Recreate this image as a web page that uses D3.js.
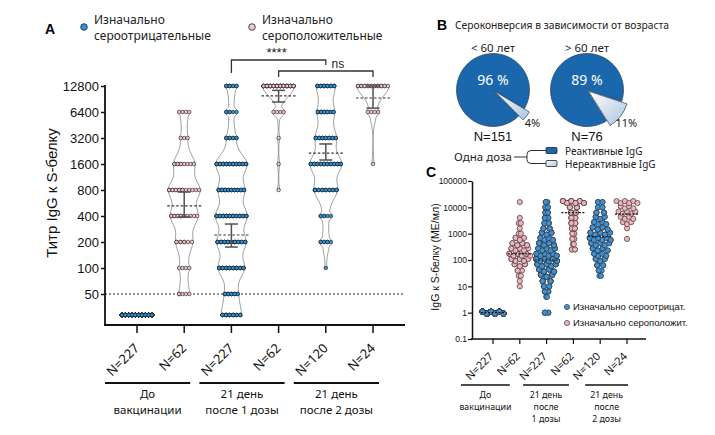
<!DOCTYPE html>
<html>
<head>
<meta charset="utf-8">
<script src="https://cdn.jsdelivr.net/npm/d3@7"></script>
<style>
  body { margin: 0; background: #fff; }
</style>
</head>
<body>
<svg id="chart" width="715" height="435"></svg>
<script>
// ---------- data ----------
const groupN = ["N=227", "N=62", "N=227", "N=62", "N=120", "N=24"];
const groupSero = ["neg", "pos", "neg", "pos", "neg", "pos"];
const timeLabelsA = [["До", "вакцинации"], ["21 день", "после 1 дозы"], ["21 день", "после 2 дозы"]];
const timeLabelsC = [["До", "вакцинации"], ["21 день", "после", "1 дозы"], ["21 день", "после", "2 дозы"]];
const legendA = [["Изначально", "сероотрицательные"], ["Изначально", "сероположительные"]];
const legendC = ["Изначально сероотрицат.", "Изначально сероположит."];

// panel A: titer levels (first one is below the 1:50 cut-off) and counts per level
const titerLevels = ["<50", 50, 100, 200, 400, 800, 1600, 3200, 6400, 12800];
const titerTicks = [50, 100, 200, 400, 800, 1600, 3200, 6400, 12800];
const countsA = [
  [227, 0, 0, 0, 0, 0, 0, 0, 0, 0],
  [0, 5, 4, 8, 13, 15, 10, 3, 4, 0],
  [22, 14, 30, 33, 36, 30, 36, 10, 6, 10],
  [0, 0, 0, 0, 0, 1, 1, 1, 4, 55],
  [0, 0, 1, 7, 6, 22, 30, 20, 16, 18],
  [0, 0, 0, 0, 0, 0, 1, 0, 4, 19]
];
const medianA = [null, 523, 241, 9830, 2140, 9300];
const errLowA = [null, 390, 175, 8350, 1780, 7100];
const errHighA = [null, 758, 323, 11400, 2730, 12800];
const signif = [{ a: 2, b: 4, label: "****" }, { a: 3, b: 5, label: "ns" }];

// panel B
const pieTitle = "Сероконверсия в зависимости от возраста";
const pieAges = ["< 60 лет", "> 60 лет"];
const pieReactive = [96, 89];
const pieN = ["N=151", "N=76"];
const pieLegend = ["Реактивные IgG", "Нереактивные IgG"];

// panel C: log10 bins of IgG (МЕ/мл), counts per bin for each group
const binLogC = [0.6, 0.8, 1.0, 1.2, 1.4, 1.6, 1.8, 2.0, 2.2, 2.4, 2.6, 2.8, 3.0, 3.2, 3.4, 3.6, 3.8, 4.0, 4.2];
const countsC = [
  [0, 0, 0, 0, 0, 0, 0, 0, 0, 0, 0, 0, 0, 0, 0, 0, 0, 0, 0],
  [0, 0, 1, 1, 2, 3, 6, 9, 11, 9, 8, 5, 2, 1, 2, 1, 0, 0, 1],
  [2, 5, 7, 10, 14, 18, 22, 25, 24, 20, 18, 15, 12, 8, 6, 5, 4, 4, 3],
  [0, 0, 0, 0, 0, 0, 0, 0, 0, 4, 2, 3, 3, 4, 5, 5, 6, 8, 22],
  [0, 0, 0, 0, 2, 3, 5, 7, 9, 11, 13, 15, 14, 11, 9, 7, 6, 4, 4],
  [0, 0, 0, 0, 0, 0, 0, 0, 0, 0, 0, 1, 0, 1, 3, 4, 5, 4, 6]
];
const onesC = [227, 0, 5, 0, 0, 0];   // values at 1 МЕ/мл
const medianC = [1, 170, 100, 6300, 780, 5500];
const yTicksC = [0.1, 1, 10, 100, 1000, 10000, 100000];

// ---------- style ----------
const FONT = '"Noto Sans", "DejaVu Sans", sans-serif';
const NUM = '"Liberation Sans", Arial, sans-serif';
const colour = { neg: "#2f93dc", pos: "#f5c3c8" };
const colourC = { neg: "#3d92d8", pos: "#f4b3bc" };
const pieDark = "#1b67ae";

const svg = d3.select("#chart");
const defs = svg.append("defs");
const grad = defs.append("linearGradient").attr("id", "light")
  .attr("x1", 0).attr("y1", 0).attr("x2", 1).attr("y2", 1);
grad.append("stop").attr("offset", "0%").attr("stop-color", "#ffffff");
grad.append("stop").attr("offset", "100%").attr("stop-color", "#a9c3e0");

// ================= PANEL A =================
const gA = svg.append("g");
const xA = d3.scalePoint().domain(d3.range(6)).range([137, 373]);
const yA = d3.scaleLog().base(2).domain([50, 12800]).range([294, 86]);
const yLevel = i => i === 0 ? yA(50) + 21 : yA(titerLevels[i]);

gA.append("text").attr("x", 45).attr("y", 34).text("A")
  .attr("font-family", NUM).attr("font-weight", "bold").attr("font-size", 14);

// legend
legendA.forEach((lines, k) => {
  const lx = k === 0 ? 84 : 252;
  gA.append("circle").attr("cx", lx).attr("cy", 27).attr("r", 3.3)
    .attr("fill", colour[k === 0 ? "neg" : "pos"]).attr("stroke", "#222").attr("stroke-width", 0.8);
  lines.forEach((t, j) => {
    gA.append("text").attr("x", lx + 10).attr("y", 24 + j * 16).text(t)
      .attr("font-family", FONT).attr("font-size", 12).attr("fill", "#222");
  });
});

// y axis
gA.append("g").attr("transform", "translate(105,0)")
  .call(d3.axisLeft(yA).tickValues(titerTicks).tickFormat(d3.format("d")).tickSize(4).tickSizeOuter(0))
  .call(g => g.select(".domain").remove())
  .call(g => g.selectAll("text").attr("font-family", NUM).attr("font-size", 13).attr("fill", "#111").attr("x", -6))
  .call(g => g.selectAll("line").attr("stroke", "#111").attr("stroke-width", 1.5));
gA.append("line").attr("x1", 105).attr("x2", 105).attr("y1", 85).attr("y2", 326)
  .attr("stroke", "#111").attr("stroke-width", 1.8);
gA.append("line").attr("x1", 104).attr("x2", 405).attr("y1", 325).attr("y2", 325)
  .attr("stroke", "#111").attr("stroke-width", 1.8);
gA.selectAll(".xtickA").data(d3.range(6)).join("line")
  .attr("class", "xtickA")
  .attr("x1", d => xA(d)).attr("x2", d => xA(d)).attr("y1", 325).attr("y2", 333)
  .attr("stroke", "#111").attr("stroke-width", 1.5);

gA.append("text").attr("transform", "translate(57,193) rotate(-90)")
  .attr("text-anchor", "middle").text("Титр IgG к S-белку")
  .attr("font-family", NUM).attr("font-size", 15).attr("fill", "#111");

// cut-off line
gA.append("line").attr("x1", 105).attr("x2", 405).attr("y1", yA(50)).attr("y2", yA(50))
  .attr("stroke", "#222").attr("stroke-width", 1).attr("stroke-dasharray", "2,2");

// violins
const bw = 10, halfMax = 16;
countsA.forEach((counts, g) => {
  const cx = xA(g);
  const pts = counts.map((c, i) => ({ c, y: yLevel(i), i })).filter(d => d.c > 0);
  const dens = t => d3.sum(pts, d => d.c * Math.exp(-((t - d.y) ** 2) / (2 * bw * bw)));
  const maxD = d3.max(pts, d => dens(d.y));
  const kde = t => halfMax * dens(t) / maxD;
  const rowMin = c => (Math.min(c, 4) - 1) * 1.7;
  pts.forEach(d => { d.hw = Math.max(kde(d.y) - 1, rowMin(d.c)); });
  const w = t => Math.max(kde(t), d3.max(pts, d => (d.hw + 1.2) * Math.exp(-((t - d.y) ** 2) / 32)));
  const y0 = d3.min(pts, d => d.y), y1 = d3.max(pts, d => d.y);
  const ts = d3.range(y0, y1, 1).concat([y1]);

  if (ts.length > 1) {
    gA.append("path").datum(ts)
      .attr("d", d3.area().curve(d3.curveBasis).y(t => t).x0(t => cx - w(t)).x1(t => cx + w(t)))
      .attr("fill", "none").attr("stroke", "#8c8c8c").attr("stroke-width", 0.8);
  }

  // dots: each subject placed into one of the visible slots of its row
  const dots = [];
  pts.forEach(d => {
    const nVis = d.c === 1 ? 1 : Math.max(2, Math.min(d.c, Math.floor(2 * d.hw / 3.1) + 1));
    const step = nVis > 1 ? 2 * d.hw / (nVis - 1) : 0;
    for (let j = 0; j < d.c; j++) {
      const slot = j % nVis;
      dots.push({ x: nVis > 1 ? cx - d.hw + slot * step : cx, y: d.y });
    }
  });
  gA.append("g").selectAll("circle").data(dots).join("circle")
    .attr("cx", d => d.x).attr("cy", d => d.y).attr("r", 1.8)
    .attr("fill", colour[groupSero[g]]).attr("stroke", "#1a1a1a").attr("stroke-width", 0.6);

  if (medianA[g] != null) {
    gA.append("line").attr("x1", cx - 17).attr("x2", cx + 17)
      .attr("y1", yA(medianA[g])).attr("y2", yA(medianA[g]))
      .attr("stroke", "#333").attr("stroke-width", 1.2).attr("stroke-dasharray", "2.5,2");
    const eb = gA.append("g").attr("stroke", "#505050").attr("stroke-width", 1.5);
    eb.append("line").attr("x1", cx).attr("x2", cx).attr("y1", yA(errLowA[g])).attr("y2", yA(errHighA[g]));
    [errLowA[g], errHighA[g]].forEach(v => {
      eb.append("line").attr("x1", cx - 6.5).attr("x2", cx + 6.5).attr("y1", yA(v)).attr("y2", yA(v));
    });
  }
});

// significance brackets
const brTop = [60, 71];
const brLegs = [[73, 65], [77, 77]];
signif.forEach((s, k) => {
  const xa = xA(s.a), xb = xA(s.b), yt = brTop[k];
  gA.append("path")
    .attr("d", `M${xa},${brLegs[k][0]}V${yt}H${xb}V${brLegs[k][1]}`)
    .attr("fill", "none").attr("stroke", "#333").attr("stroke-width", 1.3);
  const tx = k === 0 ? (xa + xb) / 2 - 2 : (xa + xb) / 2 + 12;
  gA.append("text").attr("x", tx).attr("y", k === 0 ? 57 : 68).attr("text-anchor", "middle")
    .text(s.label).attr("font-family", NUM).attr("font-size", k === 0 ? 13 : 12).attr("fill", "#222");
});

// category labels
gA.selectAll(".nA").data(groupN).join("text")
  .attr("class", "nA")
  .attr("transform", (d, i) => `translate(${xA(i) + 3},349) rotate(-45)`)
  .attr("text-anchor", "end").text(d => d)
  .attr("font-family", FONT).attr("font-size", 13).attr("fill", "#111");

timeLabelsA.forEach((lines, k) => {
  const xa = xA(2 * k) - 32, xb = xA(2 * k + 1) + 6;
  gA.append("line").attr("x1", xa).attr("x2", xb).attr("y1", 383).attr("y2", 383)
    .attr("stroke", "#111").attr("stroke-width", 2);
  lines.forEach((t, j) => {
    gA.append("text").attr("x", (xa + xb) / 2).attr("y", 398 + j * 16).attr("text-anchor", "middle")
      .text(t).attr("font-family", FONT).attr("font-size", 11.5).attr("fill", "#111");
  });
});

// ================= PANEL B =================
const gB = svg.append("g");
const xB = d3.scalePoint().domain([0, 1]).range([493, 587]);
gB.append("text").attr("x", 437).attr("y", 30).text("B")
  .attr("font-family", NUM).attr("font-weight", "bold").attr("font-size", 14);
gB.append("text").attr("x", 455).attr("y", 29).text(pieTitle)
  .attr("font-family", FONT).attr("font-size", 10.3).attr("fill", "#222");

const pieR = 36.5, pieCy = 90, mid = 128 * Math.PI / 180;
pieReactive.forEach((pct, k) => {
  const cx = xB(k);
  const share = (100 - pct) / 100 * 2 * Math.PI;
  const a0 = mid - share / 2;
  const arcs = d3.pie().sort(null).value(d => d).startAngle(a0).endAngle(a0 + 2 * Math.PI)([100 - pct, pct]);
  const g = gB.append("g").attr("transform", `translate(${cx},${pieCy})`);
  g.append("path").attr("d", d3.arc().innerRadius(0).outerRadius(pieR)(arcs[1]))
    .attr("fill", pieDark).attr("stroke", "#2c3f57").attr("stroke-width", 0.7);
  const off = 2;
  g.append("path").attr("d", d3.arc().innerRadius(0).outerRadius(pieR + 4)(arcs[0]))
    .attr("transform", `translate(${off * Math.sin(mid)},${-off * Math.cos(mid)})`)
    .attr("fill", "url(#light)").attr("stroke", "#2c3f57").attr("stroke-width", 0.7);

  gB.append("text").attr("x", cx).attr("y", 52).attr("text-anchor", "middle").text(pieAges[k])
    .attr("font-family", FONT).attr("font-size", 11.5).attr("fill", "#222");
  gB.append("text").attr("x", cx).attr("y", 85).attr("text-anchor", "middle").text(pct + " %")
    .attr("font-family", FONT).attr("font-size", 14).attr("fill", "#fff");
  const lr = pieR + 16;
  gB.append("text").attr("x", cx + lr * Math.sin(mid) - 2).attr("y", pieCy - lr * Math.cos(mid) + 1)
    .attr("dy", "0.35em").attr("text-anchor", "middle").text((100 - pct) + "%")
    .attr("font-family", FONT).attr("font-size", 11).attr("fill", "#222");
  gB.append("text").attr("x", cx).attr("y", 141).attr("text-anchor", "middle").text(pieN[k])
    .attr("font-family", NUM).attr("font-size", 13).attr("fill", "#111");
});

// legend
gB.append("text").attr("x", 512).attr("y", 161).attr("text-anchor", "end").text("Одна доза")
  .attr("font-family", FONT).attr("font-size", 11.5).attr("fill", "#222");
gB.append("path").attr("d", "M514,157H527M546,150.5H531Q527,150.5 527,154.5V159.5Q527,163.5 531,163.5H546")
  .attr("fill", "none").attr("stroke", "#333").attr("stroke-width", 1);
pieLegend.forEach((t, j) => {
  gB.append("rect").attr("x", 546).attr("y", 147.5 + j * 13).attr("width", 11).attr("height", 6).attr("rx", 1)
    .attr("fill", j === 0 ? pieDark : "url(#light)").attr("stroke", "#222").attr("stroke-width", 0.8);
  gB.append("text").attr("x", 565).attr("y", 154.5 + j * 13).text(t)
    .attr("font-family", FONT).attr("font-size", 10).attr("fill", "#222");
});

// ================= PANEL C =================
const gC = svg.append("g");
const xC = d3.scalePoint().domain(d3.range(6)).range([493, 627]);
const yC = d3.scaleLog().domain([0.1, 100000]).range([339, 181]);

gC.append("text").attr("x", 426).attr("y", 177).text("C")
  .attr("font-family", NUM).attr("font-weight", "bold").attr("font-size", 14);

gC.append("g").attr("transform", "translate(472,0)")
  .call(d3.axisLeft(yC).tickValues(yTicksC).tickFormat(d => d < 1 ? "0.1" : d3.format("d")(d)).tickSize(4).tickSizeOuter(0))
  .call(g => g.select(".domain").attr("stroke", "#111").attr("stroke-width", 1.5))
  .call(g => g.selectAll("text").attr("font-family", NUM).attr("font-size", 8.5).attr("fill", "#111").attr("x", -5))
  .call(g => g.selectAll("line").attr("stroke", "#111").attr("stroke-width", 1.2));
gC.append("line").attr("x1", 471).attr("x2", 646).attr("y1", 339).attr("y2", 339)
  .attr("stroke", "#111").attr("stroke-width", 1.5);
gC.selectAll(".xtickC").data(d3.range(6)).join("line")
  .attr("class", "xtickC")
  .attr("x1", d => xC(d)).attr("x2", d => xC(d)).attr("y1", 339).attr("y2", 344)
  .attr("stroke", "#111").attr("stroke-width", 1.2);

gC.append("text").attr("transform", "translate(439,257) rotate(-90)")
  .attr("text-anchor", "middle").text("IgG к S-белку (МЕ/мл)")
  .attr("font-family", NUM).attr("font-size", 10.5).attr("fill", "#111");

// swarms
const swarmHalf = 10.5;
countsC.forEach((counts, g) => {
  const cx = xC(g);
  const rows = counts.map((c, i) => ({ c, v: Math.pow(10, binLogC[i]) })).filter(d => d.c > 0);
  if (onesC[g] > 0) rows.push({ c: onesC[g], v: 1 });
  const nMax = d3.max(rows, d => d.c);
  const dots = [];
  rows.forEach(d => {
    const hw = nMax > 1 ? swarmHalf * (d.c - 1) / (nMax - 1) : 0;
    const nVis = d.c === 1 ? 1 : Math.max(2, Math.min(d.c, Math.floor(2 * hw / 4) + 1));
    const step = nVis > 1 ? 2 * hw / (nVis - 1) : 0;
    for (let j = 0; j < d.c; j++) {
      const slot = j % nVis;
      const jitter = nVis > 2 ? (slot % 2 ? 1 : -1) : 0;
      dots.push({ x: nVis > 1 ? cx - hw + slot * step : cx, y: yC(d.v) + jitter });
    }
  });
  gC.append("g").selectAll("circle").data(dots).join("circle")
    .attr("cx", d => d.x).attr("cy", d => d.y).attr("r", 2.6)
    .attr("fill", colourC[groupSero[g]]).attr("stroke", "#3a3a3a").attr("stroke-width", 0.7);
  gC.append("line").attr("x1", cx - 12).attr("x2", cx + 12)
    .attr("y1", yC(medianC[g])).attr("y2", yC(medianC[g]))
    .attr("stroke", "#111").attr("stroke-width", 1.2).attr("stroke-dasharray", "2,1.5");
});

// legend C
legendC.forEach((t, j) => {
  gC.append("circle").attr("cx", 567).attr("cy", 307 + j * 16).attr("r", 2.6)
    .attr("fill", colourC[j === 0 ? "neg" : "pos"]).attr("stroke", "#3a3a3a").attr("stroke-width", 0.7);
  gC.append("text").attr("x", 573).attr("y", 307 + j * 16).attr("dy", "0.35em").text(t)
    .attr("font-family", NUM).attr("font-size", 9.5).attr("fill", "#111");
});

gC.selectAll(".nC").data(groupN).join("text")
  .attr("class", "nC")
  .attr("transform", (d, i) => `translate(${xC(i) + 1},357) rotate(-45)`)
  .attr("text-anchor", "end").text(d => d)
  .attr("font-family", FONT).attr("font-size", 11).attr("fill", "#111");

timeLabelsC.forEach((lines, k) => {
  const xa = xC(2 * k) - 32 + 8.5 * k, xb = xC(2 * k + 1) - 10 + 5.5 * k;
  gC.append("line").attr("x1", xa).attr("x2", xb).attr("y1", 385).attr("y2", 385)
    .attr("stroke", "#111").attr("stroke-width", 1.5);
  lines.forEach((t, j) => {
    gC.append("text").attr("x", (xa + xb) / 2).attr("y", 398 + j * 12).attr("text-anchor", "middle")
      .text(t).attr("font-family", FONT).attr("font-size", 8.8).attr("fill", "#111");
  });
});
</script>
</body>
</html>
